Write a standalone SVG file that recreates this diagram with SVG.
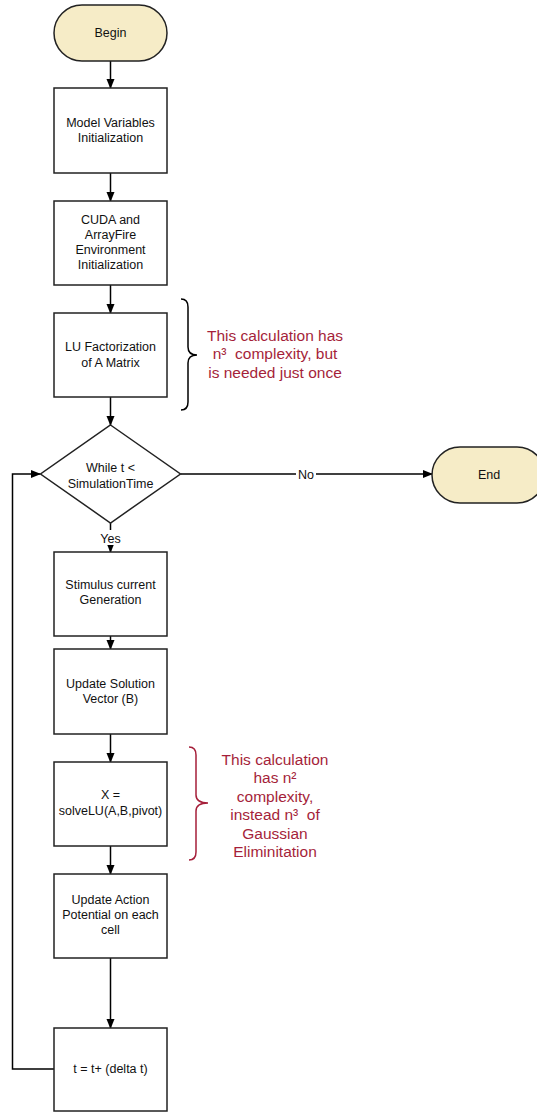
<svg xmlns="http://www.w3.org/2000/svg" width="537" height="1112" viewBox="0 0 537 1112">
<defs>
<marker id="ah" markerWidth="10" markerHeight="10" refX="9" refY="5" orient="auto" markerUnits="userSpaceOnUse">
<path d="M0,1 L10,5 L0,9 Z" fill="#000"/>
</marker>
<style>
.box{fill:#fff;stroke:#222;stroke-width:1.5}
.term{fill:#f6ecc7;stroke:#222;stroke-width:1.5}
.t{font-family:"Liberation Sans",Arial,sans-serif;font-size:12.5px;fill:#111;text-anchor:middle}
.r{font-family:"Liberation Sans",Arial,sans-serif;font-size:15.5px;fill:#a51f3a;text-anchor:middle}
.c{fill:none;stroke:#000;stroke-width:1.5}
.lbl{font-family:"Liberation Sans",Arial,sans-serif;font-size:12.5px;fill:#111;text-anchor:middle}
</style>
</defs>
<rect width="537" height="1112" fill="#fff"/>
<g id="connectors">
<line class="c" x1="110.5" y1="61" x2="110.5" y2="88" marker-end="url(#ah)"/>
<line class="c" x1="110.5" y1="173" x2="110.5" y2="201" marker-end="url(#ah)"/>
<line class="c" x1="110.5" y1="285" x2="110.5" y2="313" marker-end="url(#ah)"/>
<line class="c" x1="110.5" y1="397" x2="110.5" y2="425" marker-end="url(#ah)"/>
<line class="c" x1="110.5" y1="523" x2="110.5" y2="552" marker-end="url(#ah)"/>
<rect x="98" y="530" width="25" height="15" fill="#fff"/>
<text class="lbl" x="110.5" y="542.5">Yes</text>
<line class="c" x1="110.5" y1="636" x2="110.5" y2="649" marker-end="url(#ah)"/>
<line class="c" x1="110.5" y1="734" x2="110.5" y2="762" marker-end="url(#ah)"/>
<line class="c" x1="110.5" y1="846" x2="110.5" y2="874" marker-end="url(#ah)"/>
<line class="c" x1="110.5" y1="958" x2="110.5" y2="1028" marker-end="url(#ah)"/>
<polyline class="c" points="54,1069 12.5,1069 12.5,474 40,474" marker-end="url(#ah)"/>
<line class="c" x1="180.5" y1="474" x2="432" y2="474" marker-end="url(#ah)"/>
<rect x="296" y="466" width="20" height="15" fill="#fff"/>
<text class="lbl" x="306" y="478.5">No</text>
</g>
<g id="begin">
<rect class="term" x="54" y="5" width="113" height="56" rx="28" ry="28"/>
<text class="t" x="110.5" y="37">Begin</text>
</g>
<g id="model-init">
<rect class="box" x="54" y="88" width="113" height="85"/>
<text class="t" x="110.5" y="126.5">Model Variables</text>
<text class="t" x="110.5" y="141.5">Initialization</text>
</g>
<g id="cuda-init">
<rect class="box" x="54" y="201" width="113" height="84"/>
<text class="t" x="110.5" y="223.5">CUDA and</text>
<text class="t" x="110.5" y="238.5">ArrayFire</text>
<text class="t" x="110.5" y="253.5">Environment</text>
<text class="t" x="110.5" y="268.5">Initialization</text>
</g>
<g id="lu">
<rect class="box" x="54" y="313" width="113" height="84"/>
<text class="t" x="110.5" y="350.5">LU Factorization</text>
<text class="t" x="110.5" y="366.5">of A Matrix</text>
</g>
<g id="note1">
<path d="M181,299 Q188,299 188,307 L188,347 Q188,355 197,355 Q188,355 188,363 L188,402 Q188,410 181,410" fill="none" stroke="#000" stroke-width="1.5"/>
<text class="r" x="275" y="341">This calculation has</text>
<text class="r" x="275" y="359">n³&#160; complexity, but</text>
<text class="r" x="275" y="378">is needed just once</text>
</g>
<g id="while">
<polygon class="box" points="110.5,425 180.5,474 110.5,523 40.5,474"/>
<text class="t" x="110.5" y="471.5">While t &lt;</text>
<text class="t" x="110.5" y="487.5">SimulationTime</text>
</g>
<g id="end">
<rect class="term" x="432" y="447" width="113" height="56" rx="28" ry="28"/>
<text class="t" x="489" y="478.5">End</text>
</g>
<g id="stimulus">
<rect class="box" x="54" y="552" width="113" height="84"/>
<text class="t" x="110.5" y="588.5">Stimulus current</text>
<text class="t" x="110.5" y="603.5">Generation</text>
</g>
<g id="update-b">
<rect class="box" x="54" y="649" width="113" height="85"/>
<text class="t" x="110.5" y="687.5">Update Solution</text>
<text class="t" x="110.5" y="702.5">Vector (B)</text>
</g>
<g id="solve">
<rect class="box" x="54" y="762" width="113" height="84"/>
<text class="t" x="110.5" y="798.5">X =</text>
<text class="t" x="110.5" y="815">solveLU(A,B,pivot)</text>
</g>
<g id="note2">
<path d="M189,747 Q196,747 196,755 L196,795 Q196,803 208,803 Q196,803 196,811 L196,852 Q196,860 189,860" fill="none" stroke="#a51f3a" stroke-width="1.5"/>
<text class="r" x="275" y="764.5">This calculation</text>
<text class="r" x="275" y="783">has n²</text>
<text class="r" x="275" y="801.5">complexity,</text>
<text class="r" x="275" y="820">instead n³&#160; of</text>
<text class="r" x="275" y="838.5">Gaussian</text>
<text class="r" x="275" y="857">Eliminitation</text>
</g>
<g id="update-ap">
<rect class="box" x="54" y="874" width="113" height="84"/>
<text class="t" x="110.5" y="903.5">Update Action</text>
<text class="t" x="110.5" y="918.5">Potential on each</text>
<text class="t" x="110.5" y="933.5">cell</text>
</g>
<g id="tstep">
<rect class="box" x="54" y="1028" width="113" height="83"/>
<text class="t" x="110.5" y="1072.5">t = t+ (delta t)</text>
</g>
</svg>
